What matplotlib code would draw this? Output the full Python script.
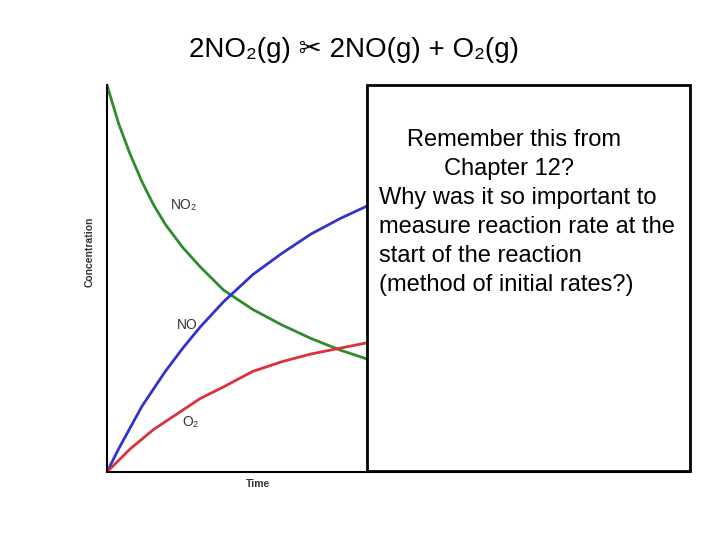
import matplotlib
matplotlib.use('Agg')
import matplotlib.pyplot as plt
from matplotlib.patches import Rectangle

plt.rcParams['font.family'] = ['Liberation Sans', 'DejaVu Sans']

# curve readings (time fraction, concentration fraction)
t = [0.0, 0.02, 0.04, 0.06, 0.08, 0.1, 0.13, 0.16, 0.2, 0.25, 0.3, 0.35, 0.4, 0.45]
no2 = [1.0, 0.9, 0.82, 0.75, 0.69, 0.64, 0.58, 0.53, 0.47, 0.42, 0.38, 0.345, 0.315, 0.29]
no = [0.0, 0.06, 0.115, 0.17, 0.215, 0.26, 0.32, 0.375, 0.44, 0.51, 0.565, 0.615, 0.655, 0.69]
o2 = [0.0, 0.03, 0.06, 0.085, 0.11, 0.13, 0.16, 0.19, 0.22, 0.26, 0.285, 0.305, 0.32, 0.335]

fig = plt.figure(figsize=(7.2, 5.4), dpi=100)
ax = fig.add_axes([107/720, 1-472/540, 583/720, 387/540])
ax.plot(t, no2, color='#2e8b2e', lw=2)
ax.plot(t, no, color='#3333cc', lw=2)
ax.plot(t, o2, color='#d9323c', lw=2)
ax.set_xlim(0, 1)
ax.set_ylim(0, 1)
ax.set_xticks([])
ax.set_yticks([])
for s in ['top', 'right']:
    ax.spines[s].set_visible(False)
ax.spines['left'].set_linewidth(1.5)
ax.spines['bottom'].set_linewidth(1.5)

ax.text(0.11, 0.68, 'NO₂', fontsize=10, color='#333333')
ax.text(0.12, 0.37, 'NO', fontsize=10, color='#333333')
ax.text(0.13, 0.12, 'O₂', fontsize=10, color='#333333')
fig.text(90/720, 1-252/540, 'Concentration', rotation=90, fontsize=7.5,
         fontweight='bold', color='#333333', ha='center', va='center')
fig.text(258/720, 1-484/540, 'Time', fontsize=7.5, fontweight='bold',
         color='#333333', ha='center', va='center')

# covering box
fig.patches.append(Rectangle((367/720, 1-471/540), 323/720, 386/540,
                             transform=fig.transFigure, facecolor='white',
                             edgecolor='black', lw=2, zorder=5))
fig.text(514/720, 1-140/540, 'Remember this from', fontsize=17, ha='center', va='center', zorder=6)
fig.text(509/720, 1-169/540, 'Chapter 12?', fontsize=17, ha='center', va='center', zorder=6)
lines = ['Why was it so important to', 'measure reaction rate at the',
         'start of the reaction', '(method of initial rates?)']
for i, line in enumerate(lines):
    fig.text(379/720, 1-(198 + 29*i)/540, line, fontsize=17, ha='left', va='center', zorder=6)

fig.text(354/720, 1-50/540, '2NO₂(g) ✂ 2NO(g) + O₂(g)', fontsize=20,
         ha='center', va='center')

fig.savefig('out.png', dpi=100)
